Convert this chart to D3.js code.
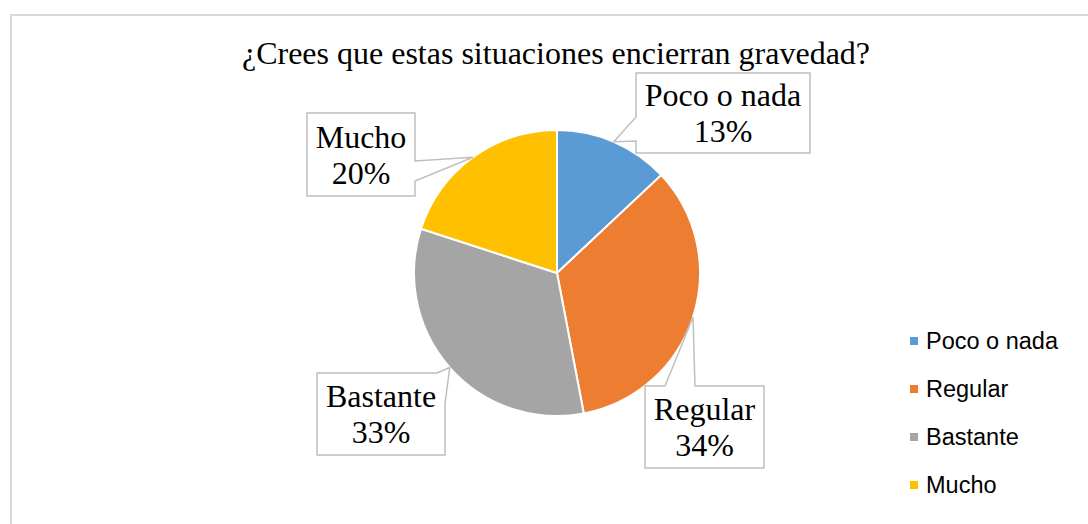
<!DOCTYPE html>
<html>
<head>
<meta charset="utf-8">
<script src="https://d3js.org/d3.v7.min.js"></script>
<style>
  body { margin: 0; background: #fff; }
  .serif { font-family: "Liberation Serif", "Times New Roman", serif; }
  .sans { font-family: "Liberation Sans", Arial, sans-serif; }
</style>
</head>
<body>
<svg width="1088" height="524"></svg>
<script>
// data
var categories = ["Poco o nada", "Regular", "Bastante", "Mucho"];
var values = [13, 34, 33, 20];
var colors = ["#5b9bd5", "#ed7d31", "#a5a5a5", "#ffc000"];
var title = "¿Crees que estas situaciones encierran gravedad?";

// callout boxes (layout only): box edges + where the pointer leaves the box
var callouts = [
  {x0: 636, y0: 73,  x1: 810, y1: 153, side: "left",  a: 117, b: 141},
  {x0: 645, y0: 386, x1: 764, y1: 468, side: "top",   a: 665, b: 695},
  {x0: 317, y0: 373, x1: 445, y1: 455, side: "tr",    a: 437, b: 404},
  {x0: 307, y0: 113, x1: 415, y1: 196, side: "right", a: 161, b: 181}
];

var svg = d3.select("svg");

// chart frame (cut off on right and bottom)
svg.append("rect")
  .attr("x", 11).attr("y", 15)
  .attr("width", 1100).attr("height", 530)
  .attr("fill", "#fff")
  .attr("stroke", "#d9d9d9")
  .attr("stroke-width", 2);

svg.append("text")
  .attr("class", "serif")
  .attr("x", 556).attr("y", 64)
  .attr("text-anchor", "middle")
  .attr("font-size", 32)
  .attr("fill", "#000")
  .text(title);

var cx = 557, cy = 273, r = 143;

var pie = d3.pie().sort(null).value(function(d) { return d; });
var arcs = pie(values);
var arc = d3.arc().innerRadius(0).outerRadius(r);
var edge = d3.arc().innerRadius(r).outerRadius(r);

var g = svg.append("g").attr("transform", "translate(" + cx + "," + cy + ")");

g.selectAll("path")
  .data(arcs)
  .enter()
  .append("path")
  .attr("d", arc)
  .attr("fill", function(d, i) { return colors[i]; })
  .attr("stroke", "#fff")
  .attr("stroke-width", 2);

function calloutPath(c, tip) {
  var p = [];
  var tx = tip[0], ty = tip[1];
  if (c.side == "left") {
    p = [[c.x0, c.y0], [c.x1, c.y0], [c.x1, c.y1], [c.x0, c.y1], [c.x0, c.b], [tx, ty], [c.x0, c.a]];
  } else if (c.side == "right") {
    p = [[c.x0, c.y0], [c.x1, c.y0], [c.x1, c.a], [tx, ty], [c.x1, c.b], [c.x1, c.y1], [c.x0, c.y1]];
  } else if (c.side == "top") {
    p = [[c.x0, c.y0], [c.a, c.y0], [tx, ty], [c.b, c.y0], [c.x1, c.y0], [c.x1, c.y1], [c.x0, c.y1]];
  } else if (c.side == "tr") {
    p = [[c.x0, c.y0], [c.a, c.y0], [tx, ty], [c.x1, c.b], [c.x1, c.y1], [c.x0, c.y1]];
  }
  return "M" + p.map(function(q) { return q.join(","); }).join("L") + "Z";
}

arcs.forEach(function(d, i) {
  var c = callouts[i];
  var t = edge.centroid(d);
  var tip = [t[0] + cx, t[1] + cy];
  svg.append("path")
    .attr("d", calloutPath(c, tip))
    .attr("fill", "#fff")
    .attr("stroke", "#bfbfbf")
    .attr("stroke-width", 1.5);
  var mx = (c.x0 + c.x1) / 2, my = (c.y0 + c.y1) / 2;
  var txt = svg.append("text")
    .attr("class", "serif")
    .attr("text-anchor", "middle")
    .attr("font-size", 32)
    .attr("fill", "#000");
  txt.append("tspan").attr("x", mx).attr("y", my - 7).text(categories[i]);
  txt.append("tspan").attr("x", mx).attr("y", my + 29).text(values[i] + "%");
});

// legend
var leg = svg.append("g");
categories.forEach(function(name, i) {
  var y = 341 + i * 48;
  leg.append("rect")
    .attr("x", 910).attr("y", y - 4)
    .attr("width", 8).attr("height", 8)
    .attr("fill", colors[i]);
  leg.append("text")
    .attr("class", "sans")
    .attr("x", 926).attr("y", y)
    .attr("dy", "0.35em")
    .attr("font-size", 23.5)
    .attr("fill", "#000")
    .text(name);
});
</script>
</body>
</html>
